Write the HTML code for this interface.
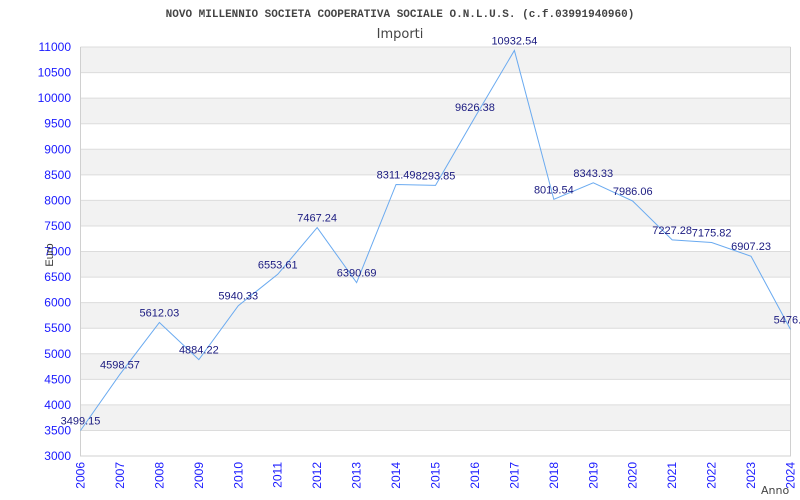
<!DOCTYPE html>
<html><head><meta charset="utf-8"><style>
body{margin:0;background:#fff;}
svg{display:block;font-family:"Liberation Sans",sans-serif;}
</style></head><body>
<svg id="c" width="800" height="500">
<text x="400" y="17" text-anchor="middle" font-family="Liberation Mono,monospace" font-weight="bold" font-size="11" fill="#444">NOVO MILLENNIO SOCIETA COOPERATIVA SOCIALE O.N.L.U.S. (c.f.03991940960)</text>
<text x="400" y="38" text-anchor="middle" font-family="DejaVu Sans,sans-serif" font-size="13" fill="#444">Importi</text>
<g id="bands"></g><g id="grid"></g><g id="yt"></g><g id="xt"></g>
<polyline id="line" fill="none" stroke="#6aaaf0" stroke-width="1"/>
<g id="vl"></g>
<text transform="translate(53,255) rotate(-90)" text-anchor="middle" font-size="11" fill="#333">Euro</text>
<text x="761" y="494" font-family="DejaVu Sans,sans-serif" font-size="11" fill="#444">Anno</text>
</svg>
<script>
const years=[2006,2007,2008,2009,2010,2011,2012,2013,2014,2015,2016,2017,2018,2019,2020,2021,2022,2023,2024];
const values=[3499.15,4598.57,5612.03,4884.22,5940.33,6553.61,7467.24,6390.69,8311.49,8293.85,9626.38,10932.54,8019.54,8343.33,7986.06,7227.28,7175.82,6907.23,5476.5];
const labels=["3499.15","4598.57","5612.03","4884.22","5940.33","6553.61","7467.24","6390.69","8311.49","8293.85","9626.38","10932.54","8019.54","8343.33","7986.06","7227.28","7175.82","6907.23","5476.5"];
const yTicks=[3000,3500,4000,4500,5000,5500,6000,6500,7000,7500,8000,8500,9000,9500,10000,10500,11000];
const L=80.5,R=790.5,T=47,B=456,ymin=3000,ymax=11000;
const X=i=>L+(R-L)*i/(years.length-1);
const Y=v=>B-(B-T)*(v-ymin)/(ymax-ymin);
const NS="http://www.w3.org/2000/svg";
function mk(t,a,p){const e=document.createElementNS(NS,t);for(const k in a)e.setAttribute(k,a[k]);p.appendChild(e);return e;}
const bands=document.getElementById('bands'),grid=document.getElementById('grid'),yt=document.getElementById('yt'),xt=document.getElementById('xt'),vl=document.getElementById('vl');
for(let i=0;i<yTicks.length-1;i++){
  if(i%2===1){const r=mk('rect',{x:L,y:Y(yTicks[i+1]),width:R-L,height:Y(yTicks[i])-Y(yTicks[i+1]),fill:'#f2f2f2'},bands);
  
  }
}
yTicks.forEach(v=>{
  const l=mk('line',{x1:L,x2:R,y1:Y(v),y2:Y(v),stroke:'#dcdcdc'},grid);
  
  
  const t=mk('text',{x:71,y:Y(v)+4,'text-anchor':'end','font-size':'12',fill:'#1a1aff'},yt);
  t.textContent=v;
  
  
});
const ax=mk('path',{d:`M${L},${T}V${B}H${R}V${T}`,fill:'none',stroke:'#d0d0d0'},grid);


years.forEach((y,i)=>{
  const t=mk('text',{transform:`translate(${X(i)+4},${462}) rotate(-90)`,'text-anchor':'end','font-size':'12',fill:'#1a1aff'},xt);
  t.textContent=y;
  
  
});
document.getElementById('line').setAttribute('points',values.map((v,i)=>X(i)+','+Y(v)).join(' '));
values.forEach((v,i)=>{
  const t=mk('text',{x:X(i),y:Y(v)-6,'text-anchor':'middle','font-size':'11',fill:'#1a1a80'},vl);
  t.textContent=labels[i];
  
  
});
</script>
</body></html>
